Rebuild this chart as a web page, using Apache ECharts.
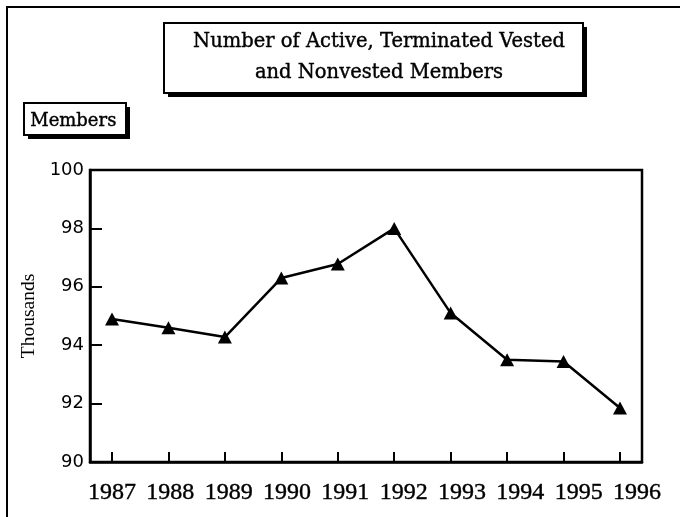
<!DOCTYPE html>
<html>
<head>
<meta charset="utf-8">
<script src="https://cdn.jsdelivr.net/npm/echarts@6/dist/echarts.min.js"></script>
<style>
html,body{margin:0;padding:0;background:#fff;}
#chart{width:680px;height:517px;}
</style>
</head>
<body>
<div id="chart"></div>
<script>
const years = [1987, 1988, 1989, 1990, 1991, 1992, 1993, 1994, 1995, 1996];
const members = [94.9, 94.6, 94.28, 96.3, 96.78, 98.0, 95.1, 93.5, 93.44, 91.85];
const yTicks = [90, 92, 94, 96, 98, 100];
const titleText = 'Number of Active, Terminated Vested\nand Nonvested Members';
const boxLabel = 'Members';
const yName = 'Thousands';

const chart = echarts.init(document.getElementById('chart'), null, {renderer: 'canvas'});
const serif = 'Liberation Serif';
const serif2 = 'DejaVu Serif';

const option = {
  backgroundColor: '#fff',
  animation: false,
  title: {
    text: titleText,
    left: 374, top: 21, textAlign: 'center',
    textStyle: {fontFamily: serif2, fontWeight: 'normal', fontSize: 19.5, color: '#000', lineHeight: 31,
      textBorderColor: '#000', textBorderWidth: 0.4}
  },
  graphic: [
    {type: 'rect', shape: {x: 7, y: 7, width: 700, height: 530}, style: {fill: 'none', stroke: '#000', lineWidth: 2}, z: -10},
    {type: 'rect', shape: {x: 168, y: 27, width: 419, height: 70}, style: {fill: '#000'}, z: 1},
    {type: 'rect', shape: {x: 164, y: 23, width: 419, height: 70}, style: {fill: '#fff', stroke: '#000', lineWidth: 2}, z: 2},
    {type: 'rect', shape: {x: 28, y: 107, width: 102, height: 32}, style: {fill: '#000'}, z: 1},
    {type: 'rect', shape: {x: 24, y: 103, width: 102, height: 32}, style: {fill: '#fff', stroke: '#000', lineWidth: 2}, z: 2},
    {type: 'text', left: 30, top: 112, z: 3, style: {text: boxLabel, fontFamily: serif2, fontSize: 18, fill: '#000',
      stroke: '#000', lineWidth: 0.4}}
  ],
  grid: {left: 90, right: 38, top: 170, bottom: 55, show: true, borderColor: '#000', borderWidth: 2.5, backgroundColor: 'transparent'},
  xAxis: [
    {
      type: 'value', min: 1986.61, max: 1996.39, position: 'bottom',
      axisLine: {show: true, onZero: false, lineStyle: {color: '#000', width: 2.5}},
      axisTick: {show: true, inside: true, length: 10, customValues: years, lineStyle: {color: '#000', width: 2}},
      axisLabel: {show: false},
      splitLine: {show: false}
    },
    {
      type: 'value', min: 1986.623, max: 1996.086, position: 'bottom', gridIndex: 0,
      axisLine: {show: false},
      axisTick: {show: false},
      axisLabel: {show: true, customValues: years, margin: 19, formatter: v => String(v),
        fontFamily: serif, fontSize: 24, color: '#000', textBorderColor: '#000', textBorderWidth: 0.4},
      splitLine: {show: false}
    }
  ],
  yAxis: {
    type: 'value', min: 90, max: 100, interval: 2,
    name: yName, nameLocation: 'middle', nameRotate: 90, nameGap: 50,
    nameTextStyle: {fontFamily: serif, fontSize: 19.5, color: '#000'},
    axisLine: {show: true, lineStyle: {color: '#000', width: 2.5}},
    axisTick: {show: true, inside: true, length: 12, lineStyle: {color: '#000', width: 2}},
    axisLabel: {margin: 6, fontFamily: 'DejaVu Sans', fontSize: 18, color: '#000',
      customValues: yTicks},
    splitLine: {show: false}
  },
  series: [{
    type: 'line',
    xAxisIndex: 0,
    data: years.map((y, i) => [y, members[i]]),
    symbol: 'triangle', symbolSize: [14, 13],
    itemStyle: {color: '#000'},
    lineStyle: {color: '#000', width: 2.5},
    z: 5
  }]
};
chart.setOption(option);
</script>
</body>
</html>
